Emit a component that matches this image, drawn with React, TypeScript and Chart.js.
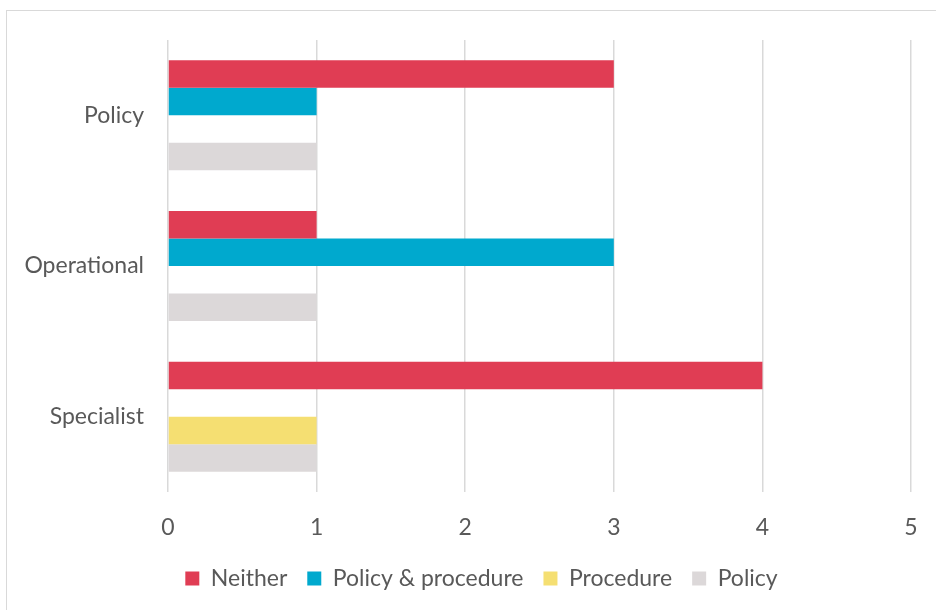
import React, { useEffect, useRef } from "react";
import { Chart, registerables } from "chart.js";

Chart.register(...registerables);

const categories = ["Policy", "Operational", "Specialist"];
const neither = [3, 1, 4];
const policyAndProcedure = [1, 3, 0];
const procedureOnly = [0, 0, 1];
const policyOnly = [1, 1, 1];
const seriesNames = ["Neither", "Policy & procedure", "Procedure", "Policy"];
const seriesColors = ["#E03D54", "#00A9CE", "#F5DF72", "#DCD8D9"];
const axisMax = 5;

const FONT = "Lato, 'Noto Sans', sans-serif";
const TEXT = "#595959";

// Moves the bottom legend sideways so it is centred under the plot area.
const legendShift = {
  id: "legendShift",
  afterLayout(chart: any) {
    const legend = chart.legend;
    if (!legend) return;
    const dx = 26;
    legend.left += dx;
    legend.right += dx;
  },
};

export default function App() {
  const canvasRef = useRef<HTMLCanvasElement | null>(null);

  useEffect(() => {
    const canvas = canvasRef.current;
    if (!canvas) return;
    const values = [neither, policyAndProcedure, procedureOnly, policyOnly];
    const chart = new Chart(canvas, {
      type: "bar",
      data: {
        labels: categories,
        datasets: seriesNames.map((name, i) => ({
          label: name,
          data: values[i],
          backgroundColor: seriesColors[i],
          borderWidth: 0,
          barPercentage: 1,
          categoryPercentage: 0.73,
        })),
      },
      options: {
        indexAxis: "y",
        responsive: false,
        animation: false,
        layout: { padding: { top: 40, right: 25, left: 0, bottom: 10 } },
        scales: {
          x: {
            min: 0,
            max: axisMax,
            ticks: {
              stepSize: 1,
              color: TEXT,
              font: { family: FONT, size: 23 },
              padding: 22,
            },
            grid: { color: "#D9D9D9", lineWidth: 1.5, drawTicks: false },
            border: { display: false },
            afterFit: (s: any) => {
              s.height = 55;
              s.paddingLeft = 0;
              s.paddingRight = 0;
            },
          },
          y: {
            ticks: {
              color: TEXT,
              font: { family: FONT, size: 23 },
              padding: 24,
            },
            grid: { display: false, drawTicks: false },
            border: { display: false },
            afterFit: (s: any) => {
              s.width = 168;
            },
          },
        },
        plugins: {
          legend: {
            position: "bottom",
            labels: {
              color: TEXT,
              font: { family: FONT, size: 23 },
              boxWidth: 14,
              boxHeight: 14,
              padding: 20,
            },
          },
          tooltip: { enabled: false },
        },
      },
      plugins: [legendShift],
    });
    return () => chart.destroy();
  }, []);

  return (
    <div
      style={{
        position: "fixed",
        left: 0,
        top: 0,
        width: 936,
        height: 610,
        overflow: "hidden",
        background: "#fff",
      }}
    >
      <div
        style={{
          position: "absolute",
          left: 6,
          top: 10,
          width: 960,
          height: 640,
          border: "1.5px solid #D9D9D9",
        }}
      />
      <canvas
        ref={canvasRef}
        width={936}
        height={610}
        style={{ position: "absolute", left: 0, top: 0 }}
      />
    </div>
  );
}
